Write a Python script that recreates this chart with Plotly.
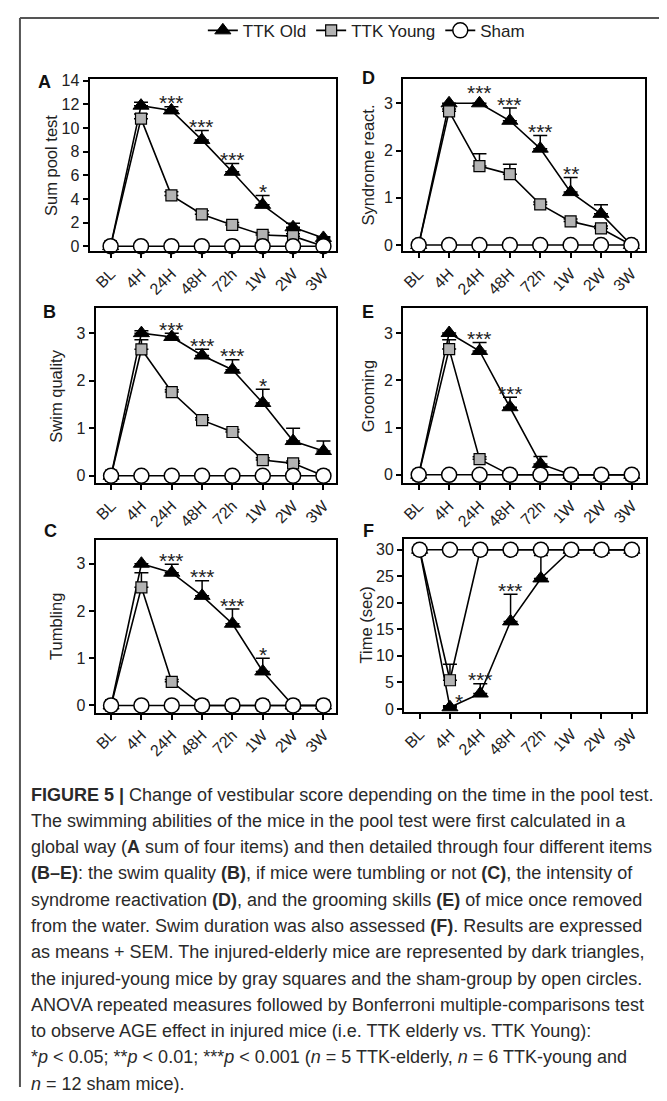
import plotly.graph_objects as go

# ---------------- data ----------------
categories = ["BL", "4H", "24H", "48H", "72h", "1W", "2W", "3W"]

# A: Sum pool test
sum_old = [0, 11.9, 11.5, 9.0, 6.3, 3.5, 1.6, 0.7]
sum_old_sem = [0, 0.3, 0.3, 0.8, 0.7, 0.8, 0.35, 0.1]
sum_young = [0, 10.8, 4.3, 2.7, 1.8, 0.95, 0.85, 0]
sum_young_sem = [0, 0.4, 0.3, 0.3, 0.2, 0.2, 0.2, 0]
sum_sham = [0, 0, 0, 0, 0, 0, 0, 0]

# B: Swim quality
swim_old = [0, 3.0, 2.92, 2.53, 2.23, 1.53, 0.73, 0.52]
swim_old_sem = [0, 0.05, 0.08, 0.13, 0.21, 0.29, 0.27, 0.21]
swim_young = [0, 2.66, 1.76, 1.17, 0.92, 0.33, 0.26, 0]
swim_young_sem = [0, 0.2, 0.05, 0.05, 0.05, 0.05, 0.05, 0]
swim_sham = [0, 0, 0, 0, 0, 0, 0, 0]

# C: Tumbling
tumb_old = [0, 3.0, 2.81, 2.32, 1.73, 0.72, 0, 0]
tumb_old_sem = [0, 0, 0.18, 0.32, 0.31, 0.28, 0, 0]
tumb_young = [0, 2.5, 0.5, 0, 0, 0, 0, 0]
tumb_young_sem = [0, 0.31, 0.05, 0, 0, 0, 0, 0]
tumb_sham = [0, 0, 0, 0, 0, 0, 0, 0]

# D: Syndrome reactivation
synd_old = [0, 3.0, 3.0, 2.63, 2.04, 1.12, 0.66, 0]
synd_old_sem = [0, 0, 0, 0.27, 0.28, 0.31, 0.19, 0]
synd_young = [0, 2.83, 1.67, 1.5, 0.86, 0.5, 0.35, 0]
synd_young_sem = [0, 0.05, 0.26, 0.21, 0.05, 0.05, 0.05, 0]
synd_sham = [0, 0, 0, 0, 0, 0, 0, 0]

# E: Grooming
groom_old = [0, 3.0, 2.62, 1.43, 0.23, 0, 0, 0]
groom_old_sem = [0, 0, 0.18, 0.21, 0.16, 0, 0, 0]
groom_young = [0, 2.66, 0.33, 0, 0, 0, 0, 0]
groom_young_sem = [0, 0.2, 0.05, 0, 0, 0, 0, 0]
groom_sham = [0, 0, 0, 0, 0, 0, 0, 0]

# F: Time (sec)
time_old = [30, 0.3, 2.9, 16.5, 24.6, 30, 30, 30]
time_old_sem = [0, 0.3, 1.85, 5.1, 4.3, 0, 0, 0]
time_young = [30, 5.4, 30, 30, 30, 30, 30, 30]
time_young_sem = [0, 3.0, 0, 0, 0, 0, 0, 0]
time_sham = [30, 30, 30, 30, 30, 30, 30, 30]

# significance labels (category index -> label)
sum_stars = {2: "***", 3: "***", 4: "***", 5: "*"}
swim_stars = {2: "***", 3: "***", 4: "***", 5: "*"}
tumb_stars = {2: "***", 3: "***", 4: "***", 5: "*"}
synd_stars = {2: "***", 3: "***", 4: "***", 5: "**"}
groom_stars = {2: "***", 3: "***"}
time_stars = {1: "*", 2: "***", 3: "***"}

caption_lines = [
    "<b>FIGURE 5 |</b> Change of vestibular score depending on the time in the pool test.",
    "The swimming abilities of the mice in the pool test were first calculated in a",
    "global way (<b>A</b> sum of four items) and then detailed through four different items",
    "<b>(B–E)</b>: the swim quality <b>(B)</b>, if mice were tumbling or not <b>(C)</b>, the intensity of",
    "syndrome reactivation <b>(D)</b>, and the grooming skills <b>(E)</b> of mice once removed",
    "from the water. Swim duration was also assessed <b>(F)</b>. Results are expressed",
    "as means + SEM. The injured-elderly mice are represented by dark triangles,",
    "the injured-young mice by gray squares and the sham-group by open circles.",
    "ANOVA repeated measures followed by Bonferroni multiple-comparisons test",
    "to observe AGE effect in injured mice (i.e. TTK elderly vs. TTK Young):",
    "*<i>p</i> &lt; 0.05; **<i>p</i> &lt; 0.01; ***<i>p</i> &lt; 0.001 (<i>n</i> = 5 TTK-elderly, <i>n</i> = 6 TTK-young and",
    "<i>n</i> = 12 sham mice).",
]

# ---------------- layout helpers ----------------
# the page body keeps its default 8px margin, so the figure is 16px smaller
# than the window and every window-pixel position is offset by 8px
PAGE_W, PAGE_H = 667, 1101
OFF = 8
W, H = PAGE_W - 2 * OFF, PAGE_H - 2 * OFF
FONT = "Liberation Sans, Arial, Helvetica, sans-serif"


def fx(px):
    return (px - OFF) / W


def fy(py):
    return 1 - (py - OFF) / H


panels = [
    dict(letter="A", title="Sum pool test", old=sum_old, old_sem=sum_old_sem, young=sum_young,
         young_sem=sum_young_sem, sham=sum_sham, stars=sum_stars, box=(87, 73, 335, 247),
         xr=[-0.69, 7.43], yr=[-0.42, 14.14], yt=[0, 2, 4, 6, 8, 10, 12, 14], tx=48, lp=(42, 76)),
    dict(letter="B", title="Swim quality", old=swim_old, old_sem=swim_old_sem, young=swim_young,
         young_sem=swim_young_sem, sham=swim_sham, stars=swim_stars, box=(93, 305, 335, 482),
         xr=[-0.51, 7.43], yr=[-0.16, 3.52], yt=[0, 1, 2, 3], tx=53, lp=(47, 309)),
    dict(letter="C", title="Tumbling", old=tumb_old, old_sem=tumb_old_sem, young=tumb_young,
         young_sem=tumb_young_sem, sham=tumb_sham, stars=tumb_stars, box=(93, 539, 335, 714),
         xr=[-0.51, 7.43], yr=[-0.15, 3.51], yt=[0, 1, 2, 3], tx=53, lp=(48, 530)),
    dict(letter="D", title="Syndrome react.", old=synd_old, old_sem=synd_old_sem, young=synd_young,
         young_sem=synd_young_sem, sham=synd_sham, stars=synd_stars, box=(402, 73, 645, 247),
         xr=[-0.51, 7.45], yr=[-0.13, 3.51], yt=[0, 1, 2, 3], tx=367, lp=(367, 72)),
    dict(letter="E", title="Grooming", old=groom_old, old_sem=groom_old_sem, young=groom_young,
         young_sem=groom_young_sem, sham=groom_sham, stars=groom_stars, box=(402, 305, 646, 482),
         xr=[-0.51, 7.47], yr=[-0.18, 3.52], yt=[0, 1, 2, 3], tx=367, lp=(367, 309)),
    dict(letter="F", title="Time (sec)", old=time_old, old_sem=time_old_sem, young=time_young,
         young_sem=time_young_sem, sham=time_sham, stars=time_stars, box=(403, 538, 646, 713),
         xr=[-0.51, 7.47], yr=[-0.5, 32.1], yt=[0, 5, 10, 15, 20, 25, 30], tx=365, lp=(367, 530)),
]

fig = go.Figure()
annotations = []
xpos = list(range(len(categories)))

for i, p in enumerate(panels, start=1):
    xa = "x" if i == 1 else f"x{i}"
    ya = "y" if i == 1 else f"y{i}"
    show = i == 1
    err_style = dict(type="data", symmetric=False, color="black", thickness=1.5, width=7)
    fig.add_trace(go.Scatter(
        x=xpos, y=p["old"], mode="lines+markers", name="TTK Old", showlegend=show,
        legendgroup="old", xaxis=xa, yaxis=ya, cliponaxis=False,
        line=dict(color="black", width=1.6),
        marker=dict(symbol="triangle-up", size=14, color="black", line=dict(color="black", width=1)),
        error_y=dict(array=p["old_sem"], arrayminus=[0] * len(xpos), **err_style),
    ))
    fig.add_trace(go.Scatter(
        x=xpos, y=p["young"], mode="lines+markers", name="TTK Young", showlegend=show,
        legendgroup="young", xaxis=xa, yaxis=ya, cliponaxis=False,
        line=dict(color="black", width=1.6),
        marker=dict(symbol="square", size=11, color="#b3b3b3", line=dict(color="black", width=1.2)),
        error_y=dict(array=p["young_sem"], arrayminus=[0] * len(xpos), **err_style),
    ))
    fig.add_trace(go.Scatter(
        x=xpos, y=p["sham"], mode="lines+markers", name="Sham", showlegend=show,
        legendgroup="sham", xaxis=xa, yaxis=ya, cliponaxis=False,
        line=dict(color="black", width=1.6),
        marker=dict(symbol="circle", size=15, color="white", line=dict(color="black", width=1.5)),
    ))

    x0, y0, x1, y1 = p["box"]
    axis_common = dict(showline=True, linewidth=2.2, linecolor="black", mirror=True,
                       ticks="outside", ticklen=5, tickwidth=1.6, tickcolor="black",
                       showgrid=False, zeroline=False,
                       tickfont=dict(family=FONT, size=16, color="#222"))
    fig.update_layout(**{
        ("xaxis" if i == 1 else f"xaxis{i}"): dict(
            domain=[fx(x0), fx(x1)], range=p["xr"], anchor=ya,
            tickvals=xpos, ticktext=categories, tickangle=-45, **axis_common),
        ("yaxis" if i == 1 else f"yaxis{i}"): dict(
            domain=[fy(y1), fy(y0)], range=p["yr"], anchor=xa,
            tickvals=p["yt"], **axis_common),
    })

    # axis title
    annotations.append(dict(
        x=fx(p["tx"]), y=fy((y0 + y1) / 2), xref="paper", yref="paper",
        text=p["title"], textangle=-90, showarrow=False, xanchor="center", yanchor="middle",
        font=dict(family=FONT, size=16.5, color="#222")))
    # panel letter
    annotations.append(dict(
        x=fx(p["lp"][0]), y=fy(p["lp"][1]), xref="paper", yref="paper",
        text=f"<b>{p['letter']}</b>", showarrow=False, xanchor="center", yanchor="middle",
        font=dict(family=FONT, size=18, color="#111")))
    # significance stars
    for k, s in p["stars"].items():
        top = p["old"][k] + p["old_sem"][k]
        shift = 4 if p["old_sem"][k] > 0.01 else 11
        xs = 9 if (p["letter"] == "F" and k == 1) else 0
        annotations.append(dict(
            x=k, y=top, xref=xa, yref=ya, text=s, showarrow=False,
            xanchor="center", yanchor="middle", yshift=shift, xshift=xs,
            font=dict(family=FONT, size=21, color="#222")))

# caption
cap_y0, cap_dy = 797, 26.6
for j, line in enumerate(caption_lines):
    annotations.append(dict(
        x=fx(27), y=fy(cap_y0 + j * cap_dy), xref="paper", yref="paper",
        text=line, showarrow=False, xanchor="left", yanchor="middle", align="left",
        borderpad=0, font=dict(family=FONT, size=18, color="#2a2a2a")))

# frame (left and top edges of the figure box; the rest runs off the page),
# drawn as the border lines of an empty full-page axis pair
frame_color = "#555"
fig.update_layout(
    xaxis7=dict(domain=[fx(17), 1], anchor="y7", side="top", showline=True, linewidth=2,
                linecolor=frame_color, showticklabels=False, ticks="", showgrid=False,
                zeroline=False, range=[0, 1], fixedrange=True),
    yaxis7=dict(domain=[0, fy(11)], anchor="x7", side="left", showline=True, linewidth=2,
                linecolor=frame_color, showticklabels=False, ticks="", showgrid=False,
                zeroline=False, range=[0, 1], fixedrange=True),
)
shapes = [
    dict(type="line", xref="paper", yref="paper", x0=fx(17), x1=fx(17), y0=0, y1=fy(11),
         line=dict(color=frame_color, width=2), layer="below"),
    dict(type="line", xref="paper", yref="paper", x0=fx(17), x1=1, y0=fy(11), y1=fy(11),
         line=dict(color=frame_color, width=2), layer="below"),
]

fig.update_layout(
    width=W, height=H, margin=dict(l=0, r=0, t=0, b=0),
    paper_bgcolor="white", plot_bgcolor="rgba(0,0,0,0)",
    font=dict(family=FONT, color="#222"),
    showlegend=True,
    legend=dict(orientation="h", x=fx(365), y=fy(24), xanchor="center", yanchor="middle",
                font=dict(family=FONT, size=17, color="#222"), bgcolor="rgba(0,0,0,0)",
                itemwidth=30, tracegroupgap=0),
    annotations=annotations, shapes=shapes,
)

fig.write_html("out.html")
